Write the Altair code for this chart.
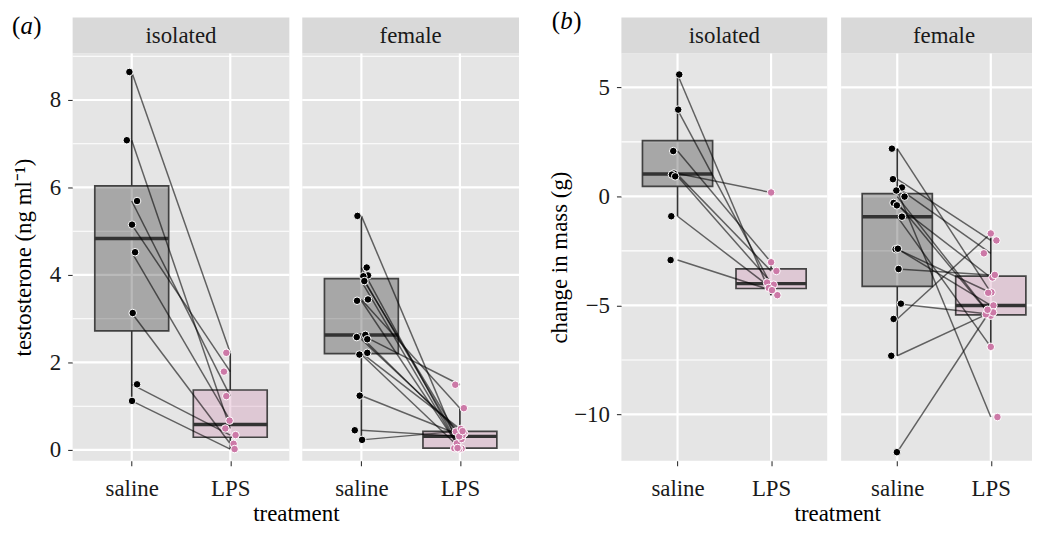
import altair as alt
import numpy as np
import pandas as pd

FONT = "Liberation Serif"
FS = 23
treatments = ["saline", "LPS"]
groups = ["isolated", "female"]
point_colors = ["#000000", "#CC79A7"]
box_fills = ["#000000", "#CC79A7"]

# axis ticks / domains
a_ticks = [0, 2, 4, 6, 8]
a_minor = [1, 3, 5, 7, 9]
a_domain = [-0.25, 9.068]
b_ticks = [-10, -5, 0, 5]
b_minor = [-12.5, -7.5, -2.5, 2.5]
b_domain = [-12.13, 6.566]

# (a) testosterone, isolated: saline[i] paired with lps[i]
a_iso_saline = [8.64, 7.08, 5.69, 5.15, 4.52, 3.13, 1.50, 1.12]
a_iso_saline_jit = [-0.024, -0.05, 0.054, 0.003, 0.034, 0.01, 0.054, 0.003]
a_iso_lps = [2.22, 0.49, 1.23, 1.79, 0.67, 0.14, 0.34, 0.02]
a_iso_lps_jit = [-0.04, -0.05, -0.04, -0.064, -0.007, 0.034, 0.054, 0.044]

# (a) testosterone, female
a_fem_saline = [5.35, 4.17, 3.99, 3.97, 3.86, 3.44, 3.41, 2.63, 2.58, 2.53, 2.22, 2.18, 1.24, 0.45, 0.23]
a_fem_saline_jit = [-0.04, 0.054, 0.067, 0.02, 0.03, 0.067, -0.044, 0.04, -0.047, 0.06, 0.06, -0.02, -0.017, -0.067, 0.007]
a_fem_lps = [0.03, 0.04, 0.15, 0.25, 0.02, 0.955, 0.035, 1.49, 0.38, 0.42, 0.48, 0.045, 0.34, 0.31, 0.43]
a_fem_lps_jit = [0.017, -0.057, -0.03, 0.017, -0.007, 0.04, -0.024, -0.047, 0.044, -0.04, 0.01, -0.024, 0.027, -0.007, 0.027]

# (b) change in mass, isolated
b_iso_saline = [5.59, 3.98, 2.08, 1.05, 1.00, 0.92, -0.91, -2.92]
b_iso_saline_jit = [0.018, 0.007, -0.046, -0.039, -0.06, -0.025, -0.067, -0.074]
b_iso_lps = [-4.53, -4.05, -3.02, 0.18, -3.42, -3.95, -4.20, -4.30]
b_iso_lps_jit = [0.067, 0.028, 0.0, 0.0, 0.057, -0.043, -0.025, 0.01]

# (b) change in mass, female
b_fem_saline = [2.19, 0.79, 0.41, 0.27, -0.01, -0.30, -0.41, -0.93, -2.42, -2.40, -3.33, -4.92, -5.62, -7.31, -11.73]
b_fem_saline_jit = [-0.057, -0.046, 0.05, -0.01, 0.078, -0.039, -0.004, 0.05, -0.018, 0.007, 0.014, 0.039, -0.039, -0.064, -0.004]
b_fem_lps = [-4.40, -2.02, -2.61, -10.12, -5.45, -5.47, -3.72, -6.90, -4.42, -5.00, -3.60, -5.41, -1.70, -5.32, -5.20]
b_fem_lps_jit = [0.007, 0.06, -0.074, 0.071, -0.018, 0.0, 0.018, 0.0, -0.028, 0.028, 0.043, -0.053, 0.0, 0.025, -0.035]


def box_table(sal, lps):
    rows = []
    for i, (t, vals) in enumerate(zip(treatments, [sal, lps])):
        v = np.array(vals, dtype=float)
        q1, med, q3 = np.quantile(v, [0.25, 0.5, 0.75])
        iqr = q3 - q1
        lo = v[v >= q1 - 1.5 * iqr].min()
        hi = v[v <= q3 + 1.5 * iqr].max()
        pos = i + 1
        rows.append(dict(treatment=t, pos=pos, xl=pos - 0.375, xr=pos + 0.375,
                         q1=q1, med=med, q3=q3, lo=lo, hi=hi))
    return pd.DataFrame(rows)


def make_panel(sal, sal_j, lps, lps_j, ydom, ymajor, yminor, strip, width, height,
               xdom=(0.4, 2.6), strip_cx=None, ytitle=None, ytitle_pad=10, letter=None):
    xscale = alt.Scale(domain=list(xdom), nice=False, zero=False)
    yscale = alt.Scale(domain=ydom, nice=False, zero=False)
    label_expr = f"datum.value == 1 ? '{treatments[0]}' : '{treatments[1]}'"
    xaxis = alt.Axis(values=[1, 2], labelExpr=label_expr, grid=False, domain=False,
                     tickSize=5, tickColor="#333333", tickWidth=1.1, labelPadding=11.8,
                     labelFont=FONT, labelFontSize=FS, labelColor="#1a1a1a", title="")
    if ytitle is not None:
        yaxis = alt.Axis(values=ymajor, grid=False, domain=False, tickSize=5,
                         tickColor="#333333", tickWidth=1.1, labelPadding=7,
                         labelFont=FONT, labelFontSize=FS, labelColor="#1a1a1a",
                         title=ytitle, titleFont=FONT, titleFontSize=FS,
                         titleFontWeight="normal", titleColor="#000000",
                         titlePadding=ytitle_pad)
    else:
        yaxis = None

    def X(f):
        return alt.X(f, type="quantitative", scale=xscale, axis=xaxis)

    def Y(f):
        return alt.Y(f, type="quantitative", scale=yscale, axis=yaxis)

    lo_d, hi_d = min(ydom), max(ydom)
    minor_df = pd.DataFrame({"v": [m for m in yminor if lo_d <= m <= hi_d]})
    major_df = pd.DataFrame({"v": ymajor})
    xgrid_df = pd.DataFrame({"v": [1, 2]})
    stats = box_table(sal, lps)
    pts = pd.DataFrame({
        "x": [1 + j for j in sal_j] + [2 + j for j in lps_j],
        "y": list(sal) + list(lps),
        "treatment": [treatments[0]] * len(sal) + [treatments[1]] * len(lps),
    })
    pairs = pd.DataFrame({"x1": [1] * len(sal), "x2": [2] * len(lps), "y1": sal, "y2": lps})
    color = alt.Color("treatment:N", scale=alt.Scale(domain=treatments, range=point_colors), legend=None)
    fillc = alt.Fill("treatment:N", scale=alt.Scale(domain=treatments, range=box_fills), legend=None)

    layers = [
        alt.Chart(minor_df).mark_rule(color="white", strokeWidth=1.1).encode(y=Y("v")),
        alt.Chart(major_df).mark_rule(color="white", strokeWidth=2.2).encode(y=Y("v")),
        alt.Chart(xgrid_df).mark_rule(color="white", strokeWidth=2.2).encode(x=X("v")),
        alt.Chart(stats).mark_rule(color="#333333", strokeWidth=1.7).encode(x=X("pos"), y=Y("lo"), y2="q1"),
        alt.Chart(stats).mark_rule(color="#333333", strokeWidth=1.7).encode(x=X("pos"), y=Y("q3"), y2="hi"),
        alt.Chart(stats).mark_rect(fillOpacity=0.27, stroke="#333333", strokeWidth=1.7, strokeOpacity=0.9).encode(
            x=X("xl"), x2="xr", y=Y("q1"), y2="q3", fill=fillc),
        alt.Chart(stats).mark_rule(color="#333333", strokeWidth=3.5).encode(x=X("xl"), x2="xr", y=Y("med")),
        alt.Chart(pairs).mark_rule(color="#000000", strokeOpacity=0.58, strokeWidth=1.5).encode(
            x=X("x1"), x2="x2", y=Y("y1"), y2="y2"),
        alt.Chart(pts).mark_circle(size=58, opacity=1, stroke="white", strokeWidth=1).encode(
            x=X("x"), y=Y("y"), color=color),
    ]
    strip_df = pd.DataFrame({"label": [strip]})
    layers.append(alt.Chart(strip_df).mark_rect(color="#D9D9D9").encode(
        x=alt.value(0), x2=alt.value(width), y=alt.value(-36), y2=alt.value(0)))
    layers.append(alt.Chart(strip_df).mark_text(font=FONT, fontSize=FS, color="#1a1a1a",
                                                baseline="alphabetic").encode(
        x=alt.value(strip_cx if strip_cx is not None else width / 2), y=alt.value(-10.5), text="label:N"))
    if letter is not None:
        ch, lx, ly = letter
        for t, dx, style in [("(", 0, "normal"), (ch, 8.5, "italic"), (")", 21.5, "normal")]:
            layers.append(alt.Chart(pd.DataFrame({"t": [t]})).mark_text(
                font=FONT, fontSize=25, fontStyle=style, align="left", baseline="alphabetic",
                color="#000000").encode(x=alt.value(lx + dx), y=alt.value(ly), text="t:N"))
    return alt.layer(*layers).properties(width=width, height=height)


H = 410
pa1 = make_panel(a_iso_saline, a_iso_saline_jit, a_iso_lps, a_iso_lps_jit, a_domain, a_ticks, a_minor,
                 groups[0], 218, H, ytitle="testosterone (ng ml\u207b\u00b9)", ytitle_pad=14,
                 letter=("a", -61, -19))
pa2 = make_panel(a_fem_saline, a_fem_saline_jit, a_fem_lps, a_fem_lps_jit, a_domain, a_ticks, a_minor,
                 groups[1], 218, H)
pb1 = make_panel(b_iso_saline, b_iso_saline_jit, b_iso_lps, b_iso_lps_jit, b_domain, b_ticks, b_minor,
                 groups[0], 207, H, ytitle="change in mass (g)", ytitle_pad=2,
                 letter=("b", -70, -24))
pb2 = make_panel(b_fem_saline, b_fem_saline_jit, b_fem_lps, b_fem_lps_jit, b_domain, b_ticks, b_minor,
                 groups[1], 192, H, xdom=(0.4, 2.4406), strip_cx=103.5)


def xtitle(dx):
    return alt.Title("treatment", orient="bottom", anchor="middle", dx=dx, offset=3,
                     baseline="top", font=FONT, fontSize=FS, fontWeight="normal", color="#000000")


chart = alt.hconcat(
    alt.hconcat(pa1, pa2, spacing=9, title=xtitle(30.5)),
    alt.hconcat(pb1, pb2, spacing=10, title=xtitle(47)),
    spacing=28,
).properties(padding={"left": 4, "top": 0, "right": 0, "bottom": 0}).configure_view(
    stroke=None, fill="#E5E5E5")

chart.save("out.html", embed_options={"renderer": "svg", "actions": False})
